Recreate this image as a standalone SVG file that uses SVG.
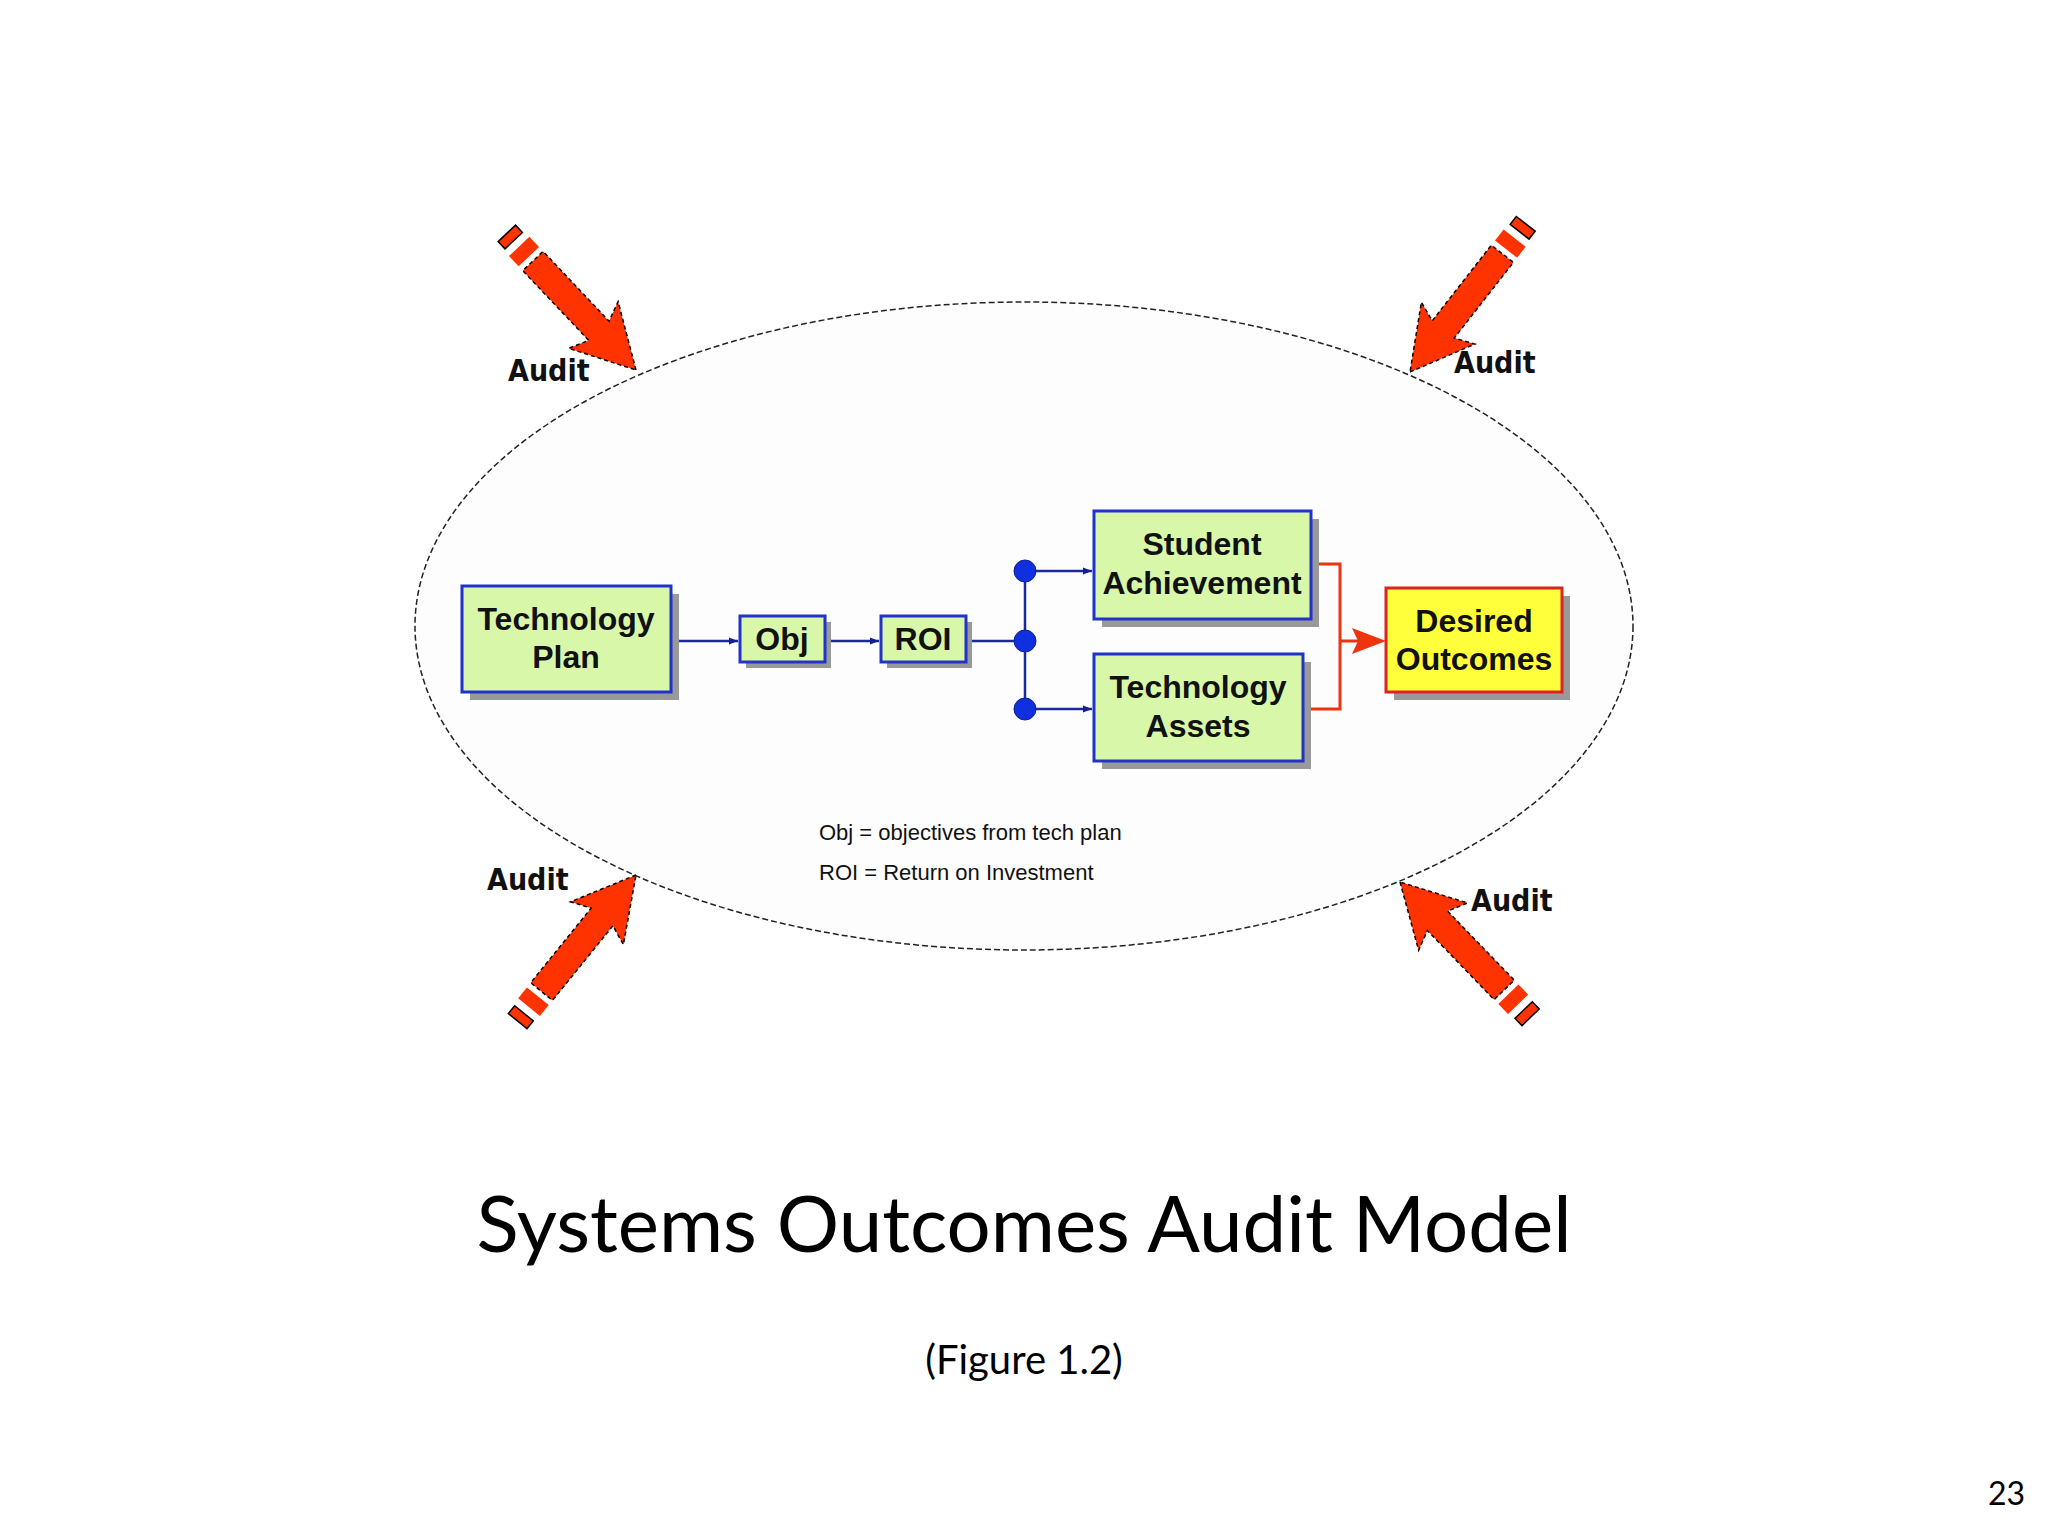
<svg xmlns="http://www.w3.org/2000/svg" width="2048" height="1536" viewBox="0 0 2048 1536">
<style>
.box{fill:#d8f7a8;stroke:#2233cc;stroke-width:3}
.yel{fill:#ffff3c;stroke:#dd2222;stroke-width:3}
.sh{fill:#999}
.lbl{font-family:"Liberation Sans Narrow","Liberation Sans",sans-serif;font-weight:bold;font-size:32px;fill:#111;text-anchor:middle}
.aud{font-family:"DejaVu Sans Condensed","Liberation Sans",sans-serif;font-weight:bold;font-size:30px;fill:#111}
.leg{font-family:"Liberation Sans Narrow","Liberation Sans",sans-serif;font-size:22px;fill:#111}
.bl{stroke:#1a2a9a;stroke-width:2.5;fill:none}
.rd{stroke:#ee3311;stroke-width:3;fill:none}
</style>
<defs>
<marker id="ab" viewBox="0 0 10 10" refX="10" refY="5" markerWidth="9" markerHeight="9" markerUnits="userSpaceOnUse" orient="auto"><path d="M0,1 L10,5 L0,9 Z" fill="#102090"/></marker>
<g id="red">
<path d="M0,0 L-62,-34 L-54,-14 L-150,-14 L-150,14 L-54,14 L-62,34 Z" fill="#ff3300" stroke="#000" stroke-width="1.5" stroke-dasharray="4,3"/>
<rect x="-170" y="-14" width="14" height="28" fill="#ff3300"/>
<rect x="-188" y="-12" width="10" height="24" fill="#ff3300" stroke="#000" stroke-width="1.5"/>
</g>
</defs>
<rect width="2048" height="1536" fill="#fff"/>
<ellipse cx="1024" cy="626" rx="609" ry="324" fill="#fdfdfd" stroke="#222" stroke-width="1.5" stroke-dasharray="6,3"/>
<g id="arrows">
<use href="#red" transform="translate(636,370) rotate(46.6)"/>
<use href="#red" transform="translate(1410,372) rotate(128)"/>
<use href="#red" transform="translate(636,875) rotate(-51)"/>
<use href="#red" transform="translate(1400,882) rotate(-134)"/>
</g>
<text class="aud" x="508" y="381">Audit</text>
<text class="aud" x="1454" y="373">Audit</text>
<text class="aud" x="487" y="890">Audit</text>
<text class="aud" x="1471" y="911">Audit</text>
<g id="connectors">
<line class="bl" x1="671" y1="641" x2="738" y2="641" marker-end="url(#ab)"/>
<line class="bl" x1="825" y1="641" x2="879" y2="641" marker-end="url(#ab)"/>
<line class="bl" x1="966" y1="641" x2="1025" y2="641"/>
<line class="bl" x1="1025" y1="571" x2="1025" y2="709"/>
<line class="bl" x1="1025" y1="571" x2="1092" y2="571" marker-end="url(#ab)"/>
<line class="bl" x1="1025" y1="709" x2="1092" y2="709" marker-end="url(#ab)"/>
<circle cx="1025" cy="571" r="11" fill="#1030e0" stroke="#102090"/>
<circle cx="1025" cy="641" r="11" fill="#1030e0" stroke="#102090"/>
<circle cx="1025" cy="709" r="11" fill="#1030e0" stroke="#102090"/>
<path class="rd" d="M1311,564 H1340 V709 H1303"/>
<line class="rd" x1="1340" y1="641" x2="1366" y2="641"/>
<path d="M1386,641 L1352,628 L1358,641 L1352,654 Z" fill="#ee3311"/>
</g>
<g id="techplan"><rect class="sh" x="470" y="594" width="209" height="106"/><rect class="box" x="462" y="586" width="209" height="106"/><text class="lbl" x="566" y="630">Technology</text><text class="lbl" x="566" y="668">Plan</text></g>
<g id="obj"><rect class="sh" x="746" y="622" width="85" height="46"/><rect class="box" x="740" y="616" width="85" height="46"/><text class="lbl" x="782" y="650">Obj</text></g>
<g id="roi"><rect class="sh" x="887" y="622" width="85" height="46"/><rect class="box" x="881" y="616" width="85" height="46"/><text class="lbl" x="923" y="650">ROI</text></g>
<g id="student"><rect class="sh" x="1102" y="519" width="217" height="108"/><rect class="box" x="1094" y="511" width="217" height="108"/><text class="lbl" x="1202" y="555">Student</text><text class="lbl" x="1202" y="594">Achievement</text></g>
<g id="assets"><rect class="sh" x="1102" y="662" width="209" height="107"/><rect class="box" x="1094" y="654" width="209" height="107"/><text class="lbl" x="1198" y="698">Technology</text><text class="lbl" x="1198" y="737">Assets</text></g>
<g id="desired"><rect class="sh" x="1394" y="596" width="176" height="104"/><rect class="yel" x="1386" y="588" width="176" height="104"/><text class="lbl" x="1474" y="632">Desired</text><text class="lbl" x="1474" y="670">Outcomes</text></g>
<text class="leg" x="819" y="840">Obj = objectives from tech plan</text>
<text class="leg" x="819" y="880">ROI = Return on Investment</text>
<text x="1024" y="1252" font-family="Lato,'Open Sans',sans-serif" font-size="78" text-anchor="middle" fill="#000">Systems Outcomes Audit Model</text>
<text x="1024" y="1374" font-family="Lato,'Open Sans',sans-serif" font-size="40" text-anchor="middle" fill="#000">(Figure 1.2)</text>
<text x="2025" y="1505" font-family="Lato,'Open Sans',sans-serif" font-size="32" text-anchor="end" fill="#000">23</text>
</svg>
